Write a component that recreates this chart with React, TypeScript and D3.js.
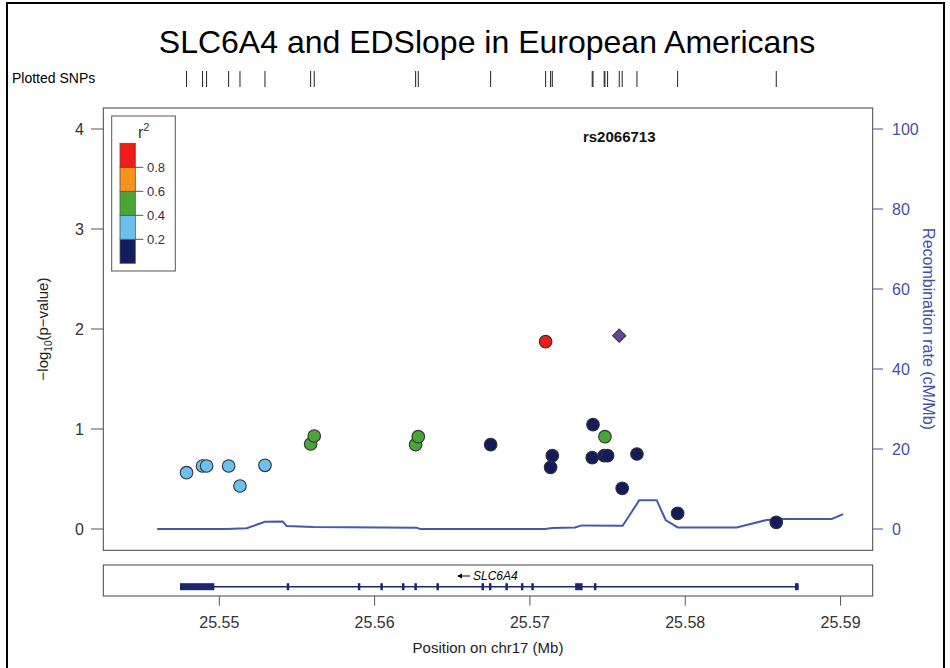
import React from "react";
import * as d3 from "d3";

const snpPos = [25.54789, 25.54892, 25.54918, 25.5506, 25.55133, 25.55294, 25.55588, 25.55611, 25.56264, 25.56281, 25.56747, 25.57101, 25.57133, 25.57144, 25.57401, 25.57406, 25.57478, 25.57483, 25.575, 25.57594, 25.57689, 25.57951, 25.58586];
const snpLogP = [0.563, 0.63, 0.63, 0.63, 0.43, 0.637, 0.85, 0.93, 0.843, 0.923, 0.843, 1.873, 0.617, 0.733, 0.713, 1.043, 0.733, 0.923, 0.733, 0.407, 0.75, 0.157, 0.067];
const snpR2 = [0.3, 0.3, 0.3, 0.3, 0.3, 0.3, 0.5, 0.5, 0.5, 0.5, 0.1, 0.85, 0.1, 0.1, 0.1, 0.1, 0.1, 0.5, 0.1, 0.1, 0.1, 0.1, 0.1];
const leadName = "rs2066713";
const leadPos = 25.57575;
const leadLogP = 1.933;

const recombPos = [25.546, 25.55047, 25.55176, 25.55294, 25.55408, 25.55433, 25.55605, 25.5627, 25.56292, 25.57101, 25.57144, 25.5729, 25.57333, 25.57597, 25.57704, 25.57816, 25.57874, 25.57951, 25.58331, 25.58524, 25.58621, 25.58943, 25.59017];
const recombRate = [0, 0, 0.2, 1.8, 1.9, 0.75, 0.5, 0.33, 0, 0, 0.25, 0.4, 0.9, 0.8, 7.2, 7.2, 2.25, 0.4, 0.4, 2.25, 2.5, 2.5, 3.7];

const geneName = "SLC6A4";
const geneStart = 25.54747;
const geneEnd = 25.5873;
const exonStart = [25.54747, 25.55434, 25.55892, 25.56037, 25.56176, 25.56256, 25.56398, 25.56688, 25.56736, 25.56842, 25.56942, 25.57009, 25.57291, 25.57412, 25.58707];
const exonEnd = [25.54968, 25.55444, 25.559, 25.56045, 25.56184, 25.56264, 25.56406, 25.56696, 25.56744, 25.5685, 25.5695, 25.57017, 25.57339, 25.5742, 25.5873];

const xTicks = [25.55, 25.56, 25.57, 25.58, 25.59];
const yTicks = [0, 1, 2, 3, 4];
const rTicks = [0, 20, 40, 60, 80, 100];
const r2Breaks = [0, 0.2, 0.4, 0.6, 0.8, 1];
const r2Colors = ["#121b5c", "#6cc0ee", "#4aa537", "#f7931d", "#f01d16"];
const legendTicks = [0.2, 0.4, 0.6, 0.8];

const FONT = "'Liberation Sans', Arial, Helvetica, sans-serif";

export default function App() {
  const left = 103.3, right = 872.7, top = 108, bottom = 550.3;
  const x = d3.scaleLinear().domain([25.54253, 25.59207]).range([left, right]);
  const y = d3.scaleLinear().domain([0, 4]).range([529, 129]);
  const yr = d3.scaleLinear().domain([0, 100]).range([529, 129]);
  const color = (r: number) => {
    const i = Math.min(4, Math.max(0, Math.floor(r / 0.2)));
    return r2Colors[i];
  };
  const line = d3.line<number>().x((d, i) => x(recombPos[i])).y((d) => yr(d));
  const recombPath = line(recombRate) || "";

  const legX = 120, legW = 15.3, legTop = 143.3, legH = 24;
  const legY = d3.scaleLinear().domain([1, 0]).range([legTop, legTop + legH * 5]);

  const geneY = 586.7;
  const axisGray = "#555";
  const recColor = "#3f51a8";

  return (
    <svg width={950} height={668} style={{ position: "absolute", left: 0, top: 0, background: "#fff" }} fontFamily={FONT}>
      <rect x={0} y={0} width={950} height={668} fill="#fff" />
      <rect x={7} y={3} width={937} height={700} fill="none" stroke="#000" strokeWidth={2} />
      <text x={487} y={53} textAnchor="middle" fontSize={32} fill="#000">SLC6A4 and EDSlope in European Americans</text>

      {/* Plotted SNPs */}
      <text x={12} y={83} fontSize={14} fill="#000">Plotted SNPs</text>
      {snpPos.concat([leadPos]).map((p, i) => (
        <line key={"t" + i} x1={x(p)} x2={x(p)} y1={71} y2={87} stroke="#222" strokeWidth={1} />
      ))}

      {/* main frame */}
      <rect x={left} y={top} width={right - left} height={bottom - top} fill="none" stroke="#444" strokeWidth={1} />

      {/* left axis */}
      {yTicks.map((t) => (
        <g key={"y" + t}>
          <line x1={91} x2={left} y1={y(t)} y2={y(t)} stroke={axisGray} />
          <text x={84} y={y(t) + 5.5} textAnchor="end" fontSize={16} fill="#333">{t}</text>
        </g>
      ))}
      <text transform={`translate(48,${(y(0) + y(4)) / 2}) rotate(-90)`} textAnchor="middle" fontSize={15} fill="#222">
        −log<tspan fontSize={10} dy={4}>10</tspan><tspan dy={-4}>(p−value)</tspan>
      </text>

      {/* right axis */}
      {rTicks.map((t) => (
        <g key={"r" + t}>
          <line x1={right} x2={883} y1={yr(t)} y2={yr(t)} stroke={recColor} />
          <text x={892} y={yr(t) + 5.5} textAnchor="start" fontSize={16} fill={recColor}>{t}</text>
        </g>
      ))}
      <text transform={`translate(923,${(yr(0) + yr(100)) / 2}) rotate(90)`} textAnchor="middle" fontSize={16} fill={recColor}>Recombination rate (cM/Mb)</text>

      {/* recombination line */}
      <path d={recombPath} fill="none" stroke="#4659ad" strokeWidth={2} />

      {/* legend */}
      <rect x={111.7} y={116} width={63.6} height={155} fill="#fff" stroke="#555" strokeWidth={1} />
      <text x={138} y={138} fontSize={16} fill="#333">r<tspan fontSize={11} dy={-7}>2</tspan></text>
      {r2Colors.map((c, i) => (
        <rect key={"lg" + i} x={legX} y={legY(r2Breaks[i + 1])} width={legW} height={legY(r2Breaks[i]) - legY(r2Breaks[i + 1])} fill={c} stroke="#555" strokeWidth={0.8} />
      ))}
      {legendTicks.map((t) => (
        <g key={"lt" + t}>
          <line x1={legX + legW} x2={legX + legW + 8} y1={legY(t)} y2={legY(t)} stroke="#555" />
          <text x={147} y={legY(t) + 4.5} fontSize={13} fill="#333">{t}</text>
        </g>
      ))}

      {/* lead label */}
      <text x={x(leadPos)} y={141.5} textAnchor="middle" fontSize={15} fontWeight="bold" fill="#111">{leadName}</text>

      {/* points */}
      {snpPos.map((p, i) => (
        <circle key={"p" + i} cx={x(p)} cy={y(snpLogP[i])} r={6.3} fill={color(snpR2[i])} stroke="#333" strokeWidth={1.1} />
      ))}
      <path d={d3.symbol().type(d3.symbolDiamond2).size(110)() || ""} transform={`translate(${x(leadPos)},${y(leadLogP)})`} fill="#6a439a" stroke="#333" strokeWidth={1.1} />

      {/* gene track */}
      <rect x={left} y={565} width={right - left} height={31} fill="#fff" stroke="#444" strokeWidth={1} />
      <line x1={x(geneStart)} x2={x(geneEnd)} y1={geneY} y2={geneY} stroke="#1b2570" strokeWidth={1.5} />
      {exonStart.map((s, i) => {
        const w = Math.max(2.5, x(exonEnd[i]) - x(s));
        const h = 7;
        return <rect key={"ex" + i} x={x(s)} y={geneY - h / 2} width={w} height={h} fill="#1b2570" />;
      })}
      <g>
        <line x1={458} x2={470} y1={576} y2={576} stroke="#000" strokeWidth={1} />
        <path d="M457,576 L462,573.5 L462,578.5 Z" fill="#000" />
        <text x={473} y={580} fontSize={12} fontStyle="italic" fill="#000">{geneName}</text>
      </g>

      {/* x axis */}
      {xTicks.map((t) => (
        <g key={"x" + t}>
          <line x1={x(t)} x2={x(t)} y1={596} y2={605.7} stroke={axisGray} />
          <text x={x(t)} y={628} textAnchor="middle" fontSize={16} fill="#333">{t.toFixed(2)}</text>
        </g>
      ))}
      <text x={(left + right) / 2} y={653} textAnchor="middle" fontSize={15} fill="#222">Position on chr17 (Mb)</text>
    </svg>
  );
}
